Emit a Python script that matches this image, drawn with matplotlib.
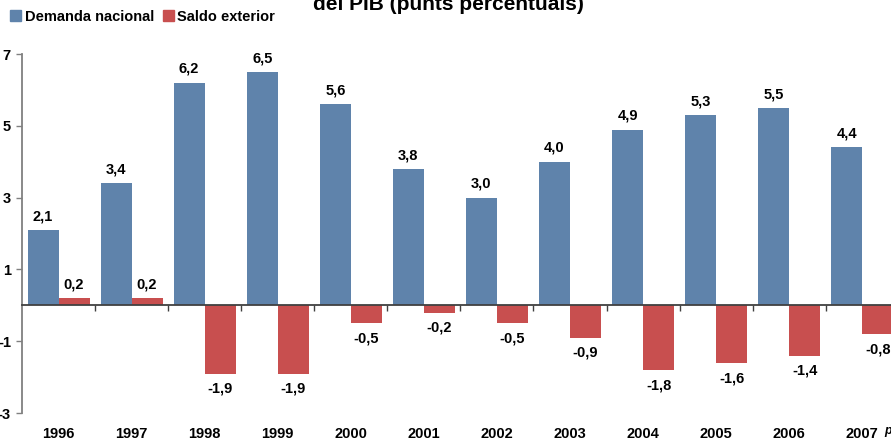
import matplotlib
matplotlib.use("Agg")
import matplotlib.pyplot as plt
from matplotlib.patches import Patch
import numpy as np

years = ["1996", "1997", "1998", "1999", "2000", "2001", "2002", "2003", "2004", "2005", "2006", "2007"]
demanda = [2.1, 3.4, 6.2, 6.5, 5.6, 3.8, 3.0, 4.0, 4.9, 5.3, 5.5, 4.4]
saldo = [0.2, 0.2, -1.9, -1.9, -0.5, -0.2, -0.5, -0.9, -1.8, -1.6, -1.4, -0.8]
yticks = [-3, -1, 1, 3, 5, 7]

blue = "#5F83AB"
red = "#C84F4F"

plt.rcParams['font.family'] = ['Liberation Sans', 'DejaVu Sans']
plt.rcParams['font.weight'] = 'bold'

fig = plt.figure(figsize=(8.91, 4.43), dpi=100)
ax = fig.add_axes([0.0247, 0.0677, 0.984, 0.810])

x = np.arange(len(years))
w = 0.424
b1 = ax.bar(x - w / 2, demanda, w, color=blue, zorder=2)
b2 = ax.bar(x + w / 2, saldo, w, color=red, zorder=2)

def fmt(v):
    return f"{v:.1f}".replace(".", ",")

fs = 10.5
for bars, vals in ((b1, demanda), (b2, saldo)):
    for r, v in zip(bars, vals):
        cx = r.get_x() + r.get_width() / 2
        if v >= 0:
            ax.annotate(fmt(v), (cx, v), xytext=(0, 10), textcoords="offset points",
                        ha="center", va="center", fontsize=fs, fontweight="bold")
        else:
            ax.annotate(fmt(v), (cx, v), xytext=(0, -11), textcoords="offset points",
                        ha="center", va="center", fontsize=fs, fontweight="bold")

ax.set_xlim(-0.5, len(years) - 0.5)
ax.set_ylim(-3, 7)
ax.set_yticks(yticks)
ax.set_yticklabels([str(t) for t in yticks], fontsize=fs, fontweight="bold")
ax.tick_params(axis="y", direction="out", length=4, width=1, color="#808080", pad=4)

for s in ("top", "right"):
    ax.spines[s].set_visible(False)
ax.spines["left"].set_color("#808080")
ax.spines["left"].set_linewidth(1.3)
ax.spines["bottom"].set_position(("data", 0))
ax.spines["bottom"].set_color("#404040")
ax.spines["bottom"].set_linewidth(1.3)
ax.spines["bottom"].set_zorder(3)

ax.set_xticks([])
ax.set_xticks(np.arange(len(years) - 1) + 0.5, minor=True)
ax.tick_params(axis="x", which="minor", direction="out", length=4, width=1, color="#404040")

sec = ax.secondary_xaxis("bottom")
sec.set_xticks(x)
sec.set_xticklabels(years, fontsize=fs, fontweight="bold")
sec.tick_params(axis="x", length=0, pad=10)
sec.spines["bottom"].set_visible(False)

fig.text(0.993, 0.020, "p", fontsize=9, fontweight="bold", style="italic", ha="left", va="baseline")

fig.text(0.503, 0.977, "del PIB (punts percentuals)", fontsize=15, fontweight="bold",
         ha="center", va="baseline")

handles = [Patch(color=blue, label="Demanda nacional"), Patch(color=red, label="Saldo exterior")]
fig.legend(handles=handles, loc="center left", bbox_to_anchor=(0.008, 0.962), ncol=2,
           frameon=False, fontsize=fs, handlelength=0.75, handleheight=0.75,
           handletextpad=0.25, columnspacing=0.6, borderpad=0.2, borderaxespad=0)

fig.savefig("out.png", dpi=100)
